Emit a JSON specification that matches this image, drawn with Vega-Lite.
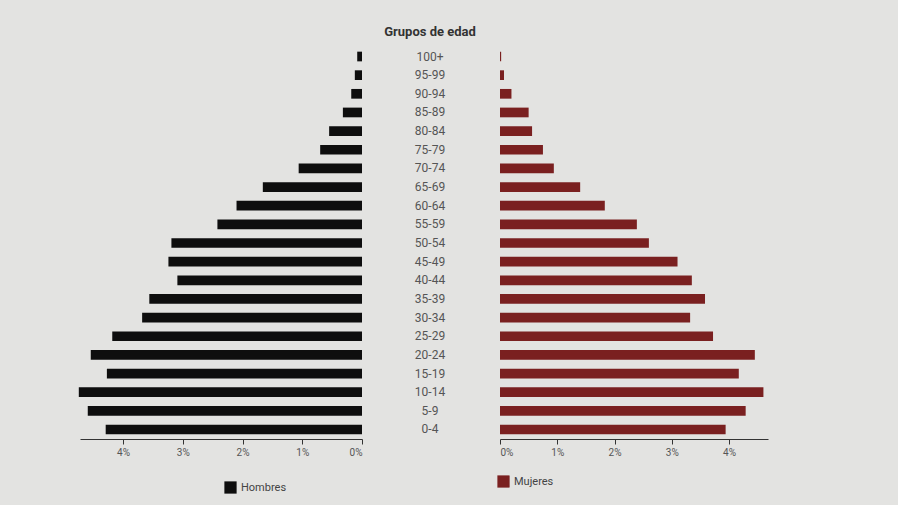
{
  "$schema": "https://vega.github.io/schema/vega-lite/v6.json",
  "background": "#e3e3e1",
  "padding": {"left": 78, "top": 26, "right": 132, "bottom": 12},
  "autosize": {"type": "pad"},
  "spacing": 0,
  "config": {
    "view": {"stroke": null},
    "font": "Roboto",
    "axis": {"labelFont": "Roboto", "labelColor": "#555", "labelFontSize": 10, "domainColor": "#333", "tickColor": "#333", "grid": false},
    "legend": {"labelFont": "Roboto", "labelFontSize": 11, "labelColor": "#444", "symbolType": "square", "symbolSize": 150, "symbolStrokeWidth": 0}
  },
  "data": {"values": [
    {"grupo": "100+", "sexo": "Hombres", "pct": 0.08}, {"grupo": "95-99", "sexo": "Hombres", "pct": 0.12},
    {"grupo": "90-94", "sexo": "Hombres", "pct": 0.18}, {"grupo": "85-89", "sexo": "Hombres", "pct": 0.32},
    {"grupo": "80-84", "sexo": "Hombres", "pct": 0.55}, {"grupo": "75-79", "sexo": "Hombres", "pct": 0.7},
    {"grupo": "70-74", "sexo": "Hombres", "pct": 1.06}, {"grupo": "65-69", "sexo": "Hombres", "pct": 1.66},
    {"grupo": "60-64", "sexo": "Hombres", "pct": 2.1}, {"grupo": "55-59", "sexo": "Hombres", "pct": 2.42},
    {"grupo": "50-54", "sexo": "Hombres", "pct": 3.19}, {"grupo": "45-49", "sexo": "Hombres", "pct": 3.24},
    {"grupo": "40-44", "sexo": "Hombres", "pct": 3.09}, {"grupo": "35-39", "sexo": "Hombres", "pct": 3.56},
    {"grupo": "30-34", "sexo": "Hombres", "pct": 3.68}, {"grupo": "25-29", "sexo": "Hombres", "pct": 4.18},
    {"grupo": "20-24", "sexo": "Hombres", "pct": 4.54}, {"grupo": "15-19", "sexo": "Hombres", "pct": 4.27},
    {"grupo": "10-14", "sexo": "Hombres", "pct": 4.74}, {"grupo": "5-9", "sexo": "Hombres", "pct": 4.59},
    {"grupo": "0-4", "sexo": "Hombres", "pct": 4.29},
    {"grupo": "100+", "sexo": "Mujeres", "pct": 0.02}, {"grupo": "95-99", "sexo": "Mujeres", "pct": 0.07},
    {"grupo": "90-94", "sexo": "Mujeres", "pct": 0.2}, {"grupo": "85-89", "sexo": "Mujeres", "pct": 0.5},
    {"grupo": "80-84", "sexo": "Mujeres", "pct": 0.56}, {"grupo": "75-79", "sexo": "Mujeres", "pct": 0.75},
    {"grupo": "70-74", "sexo": "Mujeres", "pct": 0.94}, {"grupo": "65-69", "sexo": "Mujeres", "pct": 1.4},
    {"grupo": "60-64", "sexo": "Mujeres", "pct": 1.83}, {"grupo": "55-59", "sexo": "Mujeres", "pct": 2.39},
    {"grupo": "50-54", "sexo": "Mujeres", "pct": 2.6}, {"grupo": "45-49", "sexo": "Mujeres", "pct": 3.1},
    {"grupo": "40-44", "sexo": "Mujeres", "pct": 3.35}, {"grupo": "35-39", "sexo": "Mujeres", "pct": 3.58},
    {"grupo": "30-34", "sexo": "Mujeres", "pct": 3.32}, {"grupo": "25-29", "sexo": "Mujeres", "pct": 3.72},
    {"grupo": "20-24", "sexo": "Mujeres", "pct": 4.45}, {"grupo": "15-19", "sexo": "Mujeres", "pct": 4.17},
    {"grupo": "10-14", "sexo": "Mujeres", "pct": 4.6}, {"grupo": "5-9", "sexo": "Mujeres", "pct": 4.29},
    {"grupo": "0-4", "sexo": "Mujeres", "pct": 3.94}
  ]},
  "resolve": {"scale": {"color": "independent", "y": "shared"}, "legend": {"color": "independent"}},
  "hconcat": [
    {
      "width": 282, "height": 392,
      "transform": [{"filter": "datum.sexo === 'Hombres'"}],
      "mark": {"type": "bar"},
      "encoding": {
        "y": {"field": "grupo", "type": "nominal", "sort": ["100+","95-99","90-94","85-89","80-84","75-79","70-74","65-69","60-64","55-59","50-54","45-49","40-44","35-39","30-34","25-29","20-24","15-19","10-14","5-9","0-4"], "axis": null, "scale": {"paddingInner": 0.48, "paddingOuter": 0.25}},
        "x": {"field": "pct", "type": "quantitative", "scale": {"domain": [0, 4.72], "reverse": true, "nice": false}, "axis": {"title": null, "values": [0, 1, 2, 3, 4], "labelExpr": "datum.value + '%'", "tickSize": 5, "labelPadding": 3}},
        "color": {"field": "sexo", "type": "nominal", "scale": {"domain": ["Hombres"], "range": ["#0e0e0e"]}, "legend": {"title": null, "orient": "none", "legendX": 144, "legendY": 434}}
      }
    },
    {
      "width": 134, "height": 392,
      "title": {"text": "Grupos de edad", "font": "Roboto", "fontSize": 13, "fontWeight": "bold", "color": "#333", "offset": 8},
      "transform": [{"filter": "datum.sexo === 'Hombres'"}],
      "mark": {"type": "text", "fontSize": 12, "color": "#555", "font": "Roboto"},
      "encoding": {
        "y": {"field": "grupo", "type": "nominal", "sort": ["100+","95-99","90-94","85-89","80-84","75-79","70-74","65-69","60-64","55-59","50-54","45-49","40-44","35-39","30-34","25-29","20-24","15-19","10-14","5-9","0-4"], "axis": null},
        "text": {"field": "grupo"}
      }
    },
    {
      "width": 268, "height": 392,
      "transform": [{"filter": "datum.sexo === 'Mujeres'"}],
      "mark": {"type": "bar"},
      "encoding": {
        "y": {"field": "grupo", "type": "nominal", "sort": ["100+","95-99","90-94","85-89","80-84","75-79","70-74","65-69","60-64","55-59","50-54","45-49","40-44","35-39","30-34","25-29","20-24","15-19","10-14","5-9","0-4"], "axis": null},
        "x": {"field": "pct", "type": "quantitative", "scale": {"domain": [0, 4.68], "nice": false}, "axis": {"title": null, "values": [0, 1, 2, 3, 4], "labelExpr": "datum.value + '%'", "tickSize": 5, "labelPadding": 3}},
        "color": {"field": "sexo", "type": "nominal", "scale": {"domain": ["Mujeres"], "range": ["#7a2020"]}, "legend": {"title": null, "orient": "none", "legendX": -3, "legendY": 428}}
      }
    }
  ]
}
